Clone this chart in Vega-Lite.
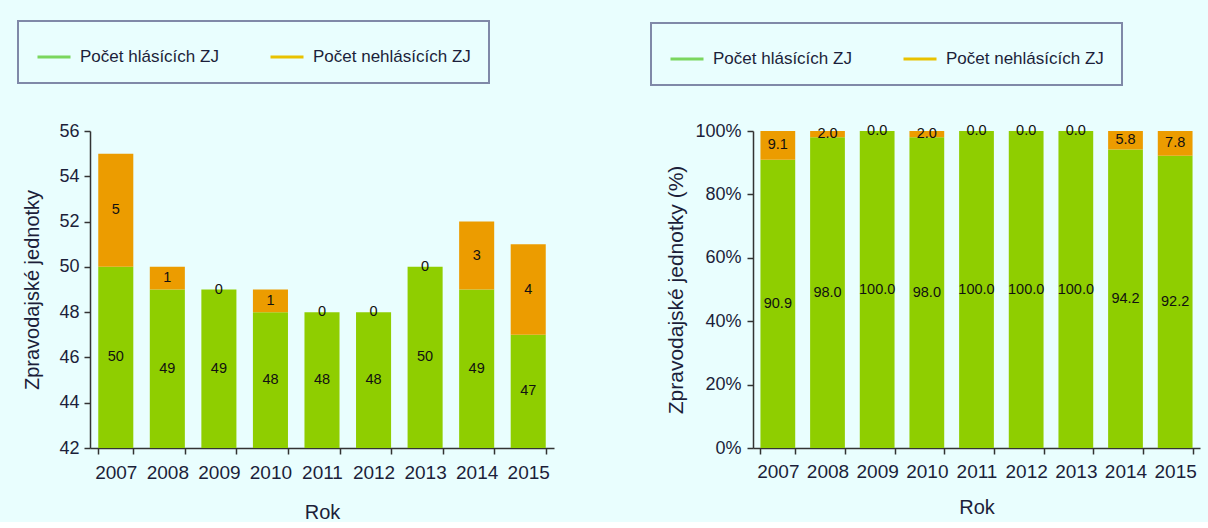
{
  "$schema": "https://vega.github.io/schema/vega-lite/v6.json",
  "background": "#e9fefe",
  "padding": {"left": 17, "top": 20, "right": 12, "bottom": 0},
  "spacing": 96,
  "config": {
    "view": {"stroke": null},
    "font": "Liberation Sans",
    "axis": {
      "labelFont": "Liberation Sans",
      "titleFont": "Liberation Sans",
      "labelColor": "#1c1f3a",
      "titleColor": "#1c1f3a",
      "domainColor": "#333333",
      "tickColor": "#333333",
      "titleFontWeight": "normal",
      "grid": false,
      "labelFontSize": 18,
      "titleFontSize": 20,
      "tickSize": 6,
      "domainWidth": 1.5,
      "tickWidth": 1.5
    },
    "legend": {
      "orient": "none",
      "direction": "horizontal",
      "symbolType": "stroke",
      "symbolSize": 1089,
      "symbolStrokeWidth": 3,
      "labelFont": "Liberation Sans",
      "labelFontSize": 17,
      "labelColor": "#1c1f3a",
      "labelOffset": 8,
      "columnPadding": 45,
      "padding": 18
    }
  },
  "resolve": {"legend": {"color": "independent"}, "scale": {"color": "independent"}},
  "hconcat": [
    {
      "width": 464,
      "height": 317,
      "data": {
        "values": [
          {"rok": "2007", "serie": "Počet hlásících ZJ", "pocet": 50},
          {"rok": "2007", "serie": "Počet nehlásících ZJ", "pocet": 5},
          {"rok": "2008", "serie": "Počet hlásících ZJ", "pocet": 49},
          {"rok": "2008", "serie": "Počet nehlásících ZJ", "pocet": 1},
          {"rok": "2009", "serie": "Počet hlásících ZJ", "pocet": 49},
          {"rok": "2009", "serie": "Počet nehlásících ZJ", "pocet": 0},
          {"rok": "2010", "serie": "Počet hlásících ZJ", "pocet": 48},
          {"rok": "2010", "serie": "Počet nehlásících ZJ", "pocet": 1},
          {"rok": "2011", "serie": "Počet hlásících ZJ", "pocet": 48},
          {"rok": "2011", "serie": "Počet nehlásících ZJ", "pocet": 0},
          {"rok": "2012", "serie": "Počet hlásících ZJ", "pocet": 48},
          {"rok": "2012", "serie": "Počet nehlásících ZJ", "pocet": 0},
          {"rok": "2013", "serie": "Počet hlásících ZJ", "pocet": 50},
          {"rok": "2013", "serie": "Počet nehlásících ZJ", "pocet": 0},
          {"rok": "2014", "serie": "Počet hlásících ZJ", "pocet": 49},
          {"rok": "2014", "serie": "Počet nehlásících ZJ", "pocet": 3},
          {"rok": "2015", "serie": "Počet hlásících ZJ", "pocet": 47},
          {"rok": "2015", "serie": "Počet nehlásících ZJ", "pocet": 4}
        ]
      },
      "transform": [
        {"stack": "pocet", "groupby": ["rok"], "sort": [{"field": "serie"}], "as": ["y0", "y1"]},
        {"calculate": "(max(datum.y0, 42) + datum.y1) / 2", "as": "ymid"}
      ],
      "encoding": {
        "x": {
          "field": "rok",
          "type": "ordinal",
          "scale": {"paddingInner": 0.32, "paddingOuter": 0.16},
          "axis": {"title": "Rok", "labelAngle": 0, "tickBand": "extent", "labelFontSize": 19, "labelPadding": 9, "titlePadding": 20}
        }
      },
      "layer": [
        {
          "mark": {"type": "bar", "clip": true},
          "encoding": {
            "y": {
              "field": "y1",
              "type": "quantitative",
              "scale": {"domain": [42, 56], "zero": false, "nice": false},
              "axis": {"title": "Zpravodajské jednotky", "values": [42, 44, 46, 48, 50, 52, 54, 56], "labelPadding": 5, "titlePadding": 16}
            },
            "y2": {"field": "y0"},
            "color": {
              "field": "serie",
              "type": "nominal",
              "scale": {"domain": ["Počet hlásících ZJ", "Počet nehlásících ZJ"], "range": ["#8fce00", "#ec9c00"]},
              "legend": {
                "title": null,
                "legendX": -72,
                "legendY": -110,
                "encode": {
                  "legend": {"update": {"stroke": {"value": "#8089a8"}, "strokeWidth": {"value": 2}}},
                  "symbols": {"update": {"stroke": {"signal": "datum.value === 'Počet hlásících ZJ' ? '#7bd65e' : '#e9c200'"}}}
                }
              }
            }
          }
        },
        {
          "mark": {"type": "text", "fontSize": 14.5, "color": "#111111", "font": "Liberation Sans"},
          "encoding": {
            "y": {"field": "ymid", "type": "quantitative"},
            "text": {"field": "pocet", "type": "quantitative", "format": "d"}
          }
        }
      ]
    },
    {
      "width": 447,
      "height": 317,
      "data": {
        "values": [
          {"rok": "2007", "serie": "Počet hlásících ZJ", "procento": 90.9},
          {"rok": "2007", "serie": "Počet nehlásících ZJ", "procento": 9.1},
          {"rok": "2008", "serie": "Počet hlásících ZJ", "procento": 98.0},
          {"rok": "2008", "serie": "Počet nehlásících ZJ", "procento": 2.0},
          {"rok": "2009", "serie": "Počet hlásících ZJ", "procento": 100.0},
          {"rok": "2009", "serie": "Počet nehlásících ZJ", "procento": 0.0},
          {"rok": "2010", "serie": "Počet hlásících ZJ", "procento": 98.0},
          {"rok": "2010", "serie": "Počet nehlásících ZJ", "procento": 2.0},
          {"rok": "2011", "serie": "Počet hlásících ZJ", "procento": 100.0},
          {"rok": "2011", "serie": "Počet nehlásících ZJ", "procento": 0.0},
          {"rok": "2012", "serie": "Počet hlásících ZJ", "procento": 100.0},
          {"rok": "2012", "serie": "Počet nehlásících ZJ", "procento": 0.0},
          {"rok": "2013", "serie": "Počet hlásících ZJ", "procento": 100.0},
          {"rok": "2013", "serie": "Počet nehlásících ZJ", "procento": 0.0},
          {"rok": "2014", "serie": "Počet hlásících ZJ", "procento": 94.2},
          {"rok": "2014", "serie": "Počet nehlásících ZJ", "procento": 5.8},
          {"rok": "2015", "serie": "Počet hlásících ZJ", "procento": 92.2},
          {"rok": "2015", "serie": "Počet nehlásících ZJ", "procento": 7.8}
        ]
      },
      "transform": [
        {"stack": "procento", "groupby": ["rok"], "sort": [{"field": "serie"}], "as": ["y0", "y1"]},
        {"calculate": "(datum.y0 + datum.y1) / 2", "as": "ymid"}
      ],
      "encoding": {
        "x": {
          "field": "rok",
          "type": "ordinal",
          "scale": {"paddingInner": 0.3, "paddingOuter": 0.15},
          "axis": {"title": "Rok", "labelAngle": 0, "tickBand": "extent", "labelFontSize": 19, "labelPadding": 8, "titlePadding": 16}
        }
      },
      "layer": [
        {
          "mark": {"type": "bar", "clip": true},
          "encoding": {
            "y": {
              "field": "y1",
              "type": "quantitative",
              "scale": {"domain": [0, 100], "nice": false},
              "axis": {"title": "Zpravodajské jednotky (%)", "titleFontSize": 21, "values": [0, 20, 40, 60, 80, 100], "labelExpr": "datum.value + '%'", "labelPadding": 6, "titlePadding": 8}
            },
            "y2": {"field": "y0"},
            "color": {
              "field": "serie",
              "type": "nominal",
              "scale": {"domain": ["Počet hlásících ZJ", "Počet nehlásících ZJ"], "range": ["#8fce00", "#ec9c00"]},
              "legend": {
                "title": null,
                "legendX": -102,
                "legendY": -108,
                "encode": {
                  "legend": {"update": {"stroke": {"value": "#8089a8"}, "strokeWidth": {"value": 2}}},
                  "symbols": {"update": {"stroke": {"signal": "datum.value === 'Počet hlásících ZJ' ? '#7bd65e' : '#e9c200'"}}}
                }
              }
            }
          }
        },
        {
          "mark": {"type": "text", "fontSize": 14.5, "color": "#111111", "font": "Liberation Sans"},
          "encoding": {
            "y": {"field": "ymid", "type": "quantitative"},
            "text": {"field": "procento", "type": "quantitative", "format": ".1f"}
          }
        }
      ]
    }
  ]
}
